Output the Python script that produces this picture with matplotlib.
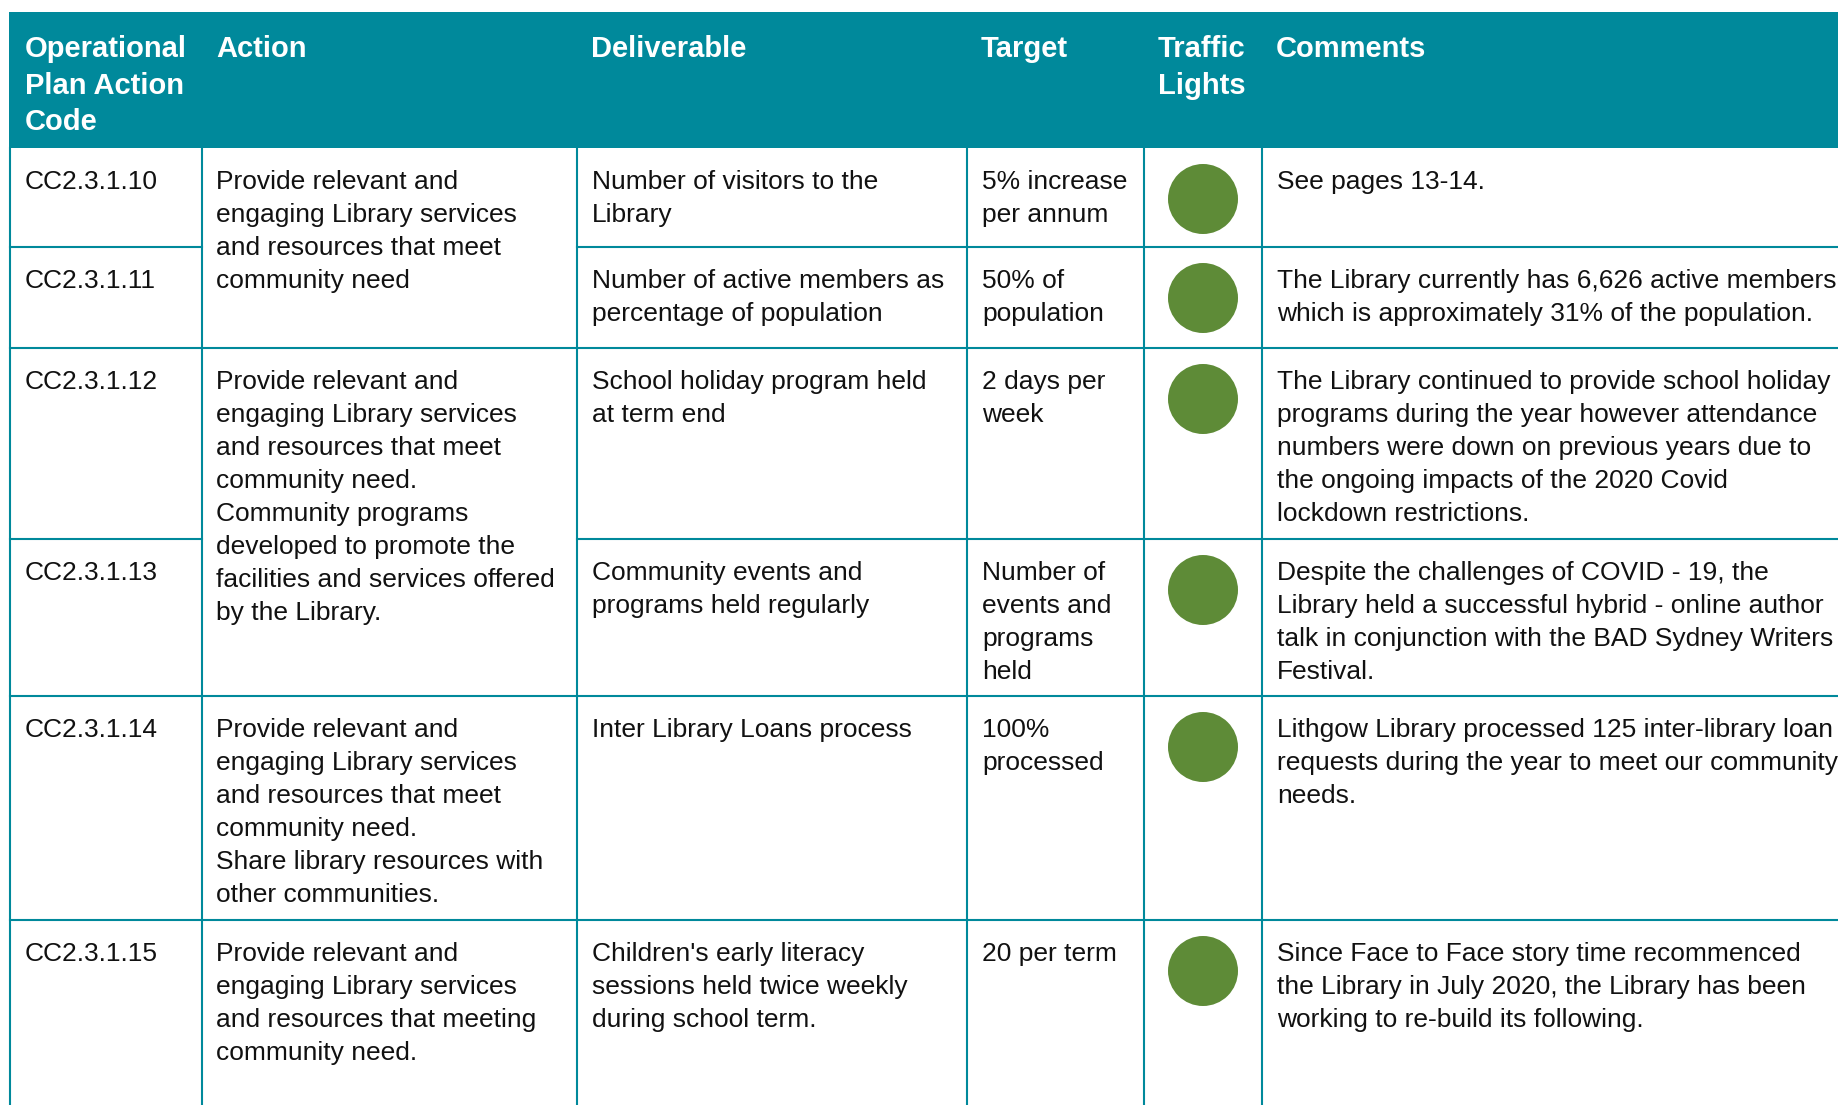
import matplotlib.pyplot as plt
from matplotlib.patches import Rectangle, Circle

W, H = 1838, 1105
TEAL = "#00899b"
GREEN = "#5e8b37"

headers = ["Operational\nPlan Action\nCode", "Action", "Deliverable", "Target",
           "Traffic\nLights", "Comments"]

codes = ["CC2.3.1.10", "CC2.3.1.11", "CC2.3.1.12", "CC2.3.1.13", "CC2.3.1.14", "CC2.3.1.15"]

# action cells are merged over several rows: (first row, last row, text)
actions = [
    (0, 1, "Provide relevant and\nengaging Library services\nand resources that meet\ncommunity need"),
    (2, 3, "Provide relevant and\nengaging Library services\nand resources that meet\ncommunity need.\n"
           "Community programs\ndeveloped to promote the\nfacilities and services offered\nby the Library."),
    (4, 4, "Provide relevant and\nengaging Library services\nand resources that meet\ncommunity need.\n"
           "Share library resources with\nother communities."),
    (5, 5, "Provide relevant and\nengaging Library services\nand resources that meeting\ncommunity need."),
]

deliverables = [
    "Number of visitors to the\nLibrary",
    "Number of active members as\npercentage of population",
    "School holiday program held\nat term end",
    "Community events and\nprograms held regularly",
    "Inter Library Loans process",
    "Children's early literacy\nsessions held twice weekly\nduring school term.",
]

targets = [
    "5% increase\nper annum",
    "50% of\npopulation",
    "2 days per\nweek",
    "Number of\nevents and\nprograms\nheld",
    "100%\nprocessed",
    "20 per term",
]

status = ["green"] * 6

comments = [
    "See pages 13-14.",
    "The Library currently has 6,626 active members\nwhich is approximately 31% of the population.",
    "The Library continued to provide school holiday\nprograms during the year however attendance\n"
    "numbers were down on previous years due to\nthe ongoing impacts of the 2020 Covid\nlockdown restrictions.",
    "Despite the challenges of COVID - 19, the\nLibrary held a successful hybrid - online author\n"
    "talk in conjunction with the BAD Sydney Writers\nFestival.",
    "Lithgow Library processed 125 inter-library loan\nrequests during the year to meet our community\nneeds.",
    "Since Face to Face story time recommenced\nthe Library in July 2020, the Library has been\n"
    "working to re-build its following.",
]

# layout (pixels)
col_x = [10, 202, 577, 967, 1144, 1262, 2000]
row_y = [148, 247, 348, 539, 696, 920, 1200]
head_top = 12
pad = 15
first = 41

fig = plt.figure(figsize=(W / 100, H / 100), dpi=100)
ax = fig.add_axes([0, 0, 1, 1])
ax.set_xlim(0, W)
ax.set_ylim(H, 0)
ax.axis("off")

font = "Liberation Sans"


def put(x, y, text, step=33, **kw):
    for i, line in enumerate(text.split("\n")):
        ax.text(x, y + i * step, line, va="baseline", ha="left",
                family=font, clip_on=False, **kw)


# header
ax.add_patch(Rectangle((col_x[0] - 1, head_top), W, row_y[0] - head_top, color=TEAL, lw=0))
for j, h in enumerate(headers):
    put(col_x[j] + (15 if j == 0 else 14), head_top + 45, h, step=36.5,
        color="white", fontsize=21, weight="bold")

lw = 1.5
# vertical lines
for x in col_x[:-1]:
    ax.plot([x, x], [row_y[0], H + 5], color=TEAL, lw=lw)

# horizontal lines; break them in the action column inside merged cells
merged_inner = set()
for a0, a1, _ in actions:
    for r in range(a0 + 1, a1 + 1):
        merged_inner.add(r)
for r in range(1, len(codes)):
    y = row_y[r]
    if r in merged_inner:
        ax.plot([col_x[0], col_x[1]], [y, y], color=TEAL, lw=lw)
        ax.plot([col_x[2], W + 5], [y, y], color=TEAL, lw=lw)
    else:
        ax.plot([col_x[0], W + 5], [y, y], color=TEAL, lw=lw)

body = dict(color="#111111", fontsize=19)
for r in range(len(codes)):
    top = row_y[r]
    put(col_x[0] + 15, top + first, codes[r], **body)
    put(col_x[2] + pad, top + first, deliverables[r], **body)
    put(col_x[3] + pad, top + first, targets[r], **body)
    put(col_x[5] + pad, top + first, comments[r], **body)
    cx = (col_x[4] + col_x[5]) / 2
    ax.add_patch(Circle((cx, top + 51), 35, color=GREEN if status[r] == "green" else "#c00000", lw=0))

for a0, a1, txt in actions:
    put(col_x[1] + 14, row_y[a0] + first, txt, **body)

fig.savefig("out.png", dpi=100)
